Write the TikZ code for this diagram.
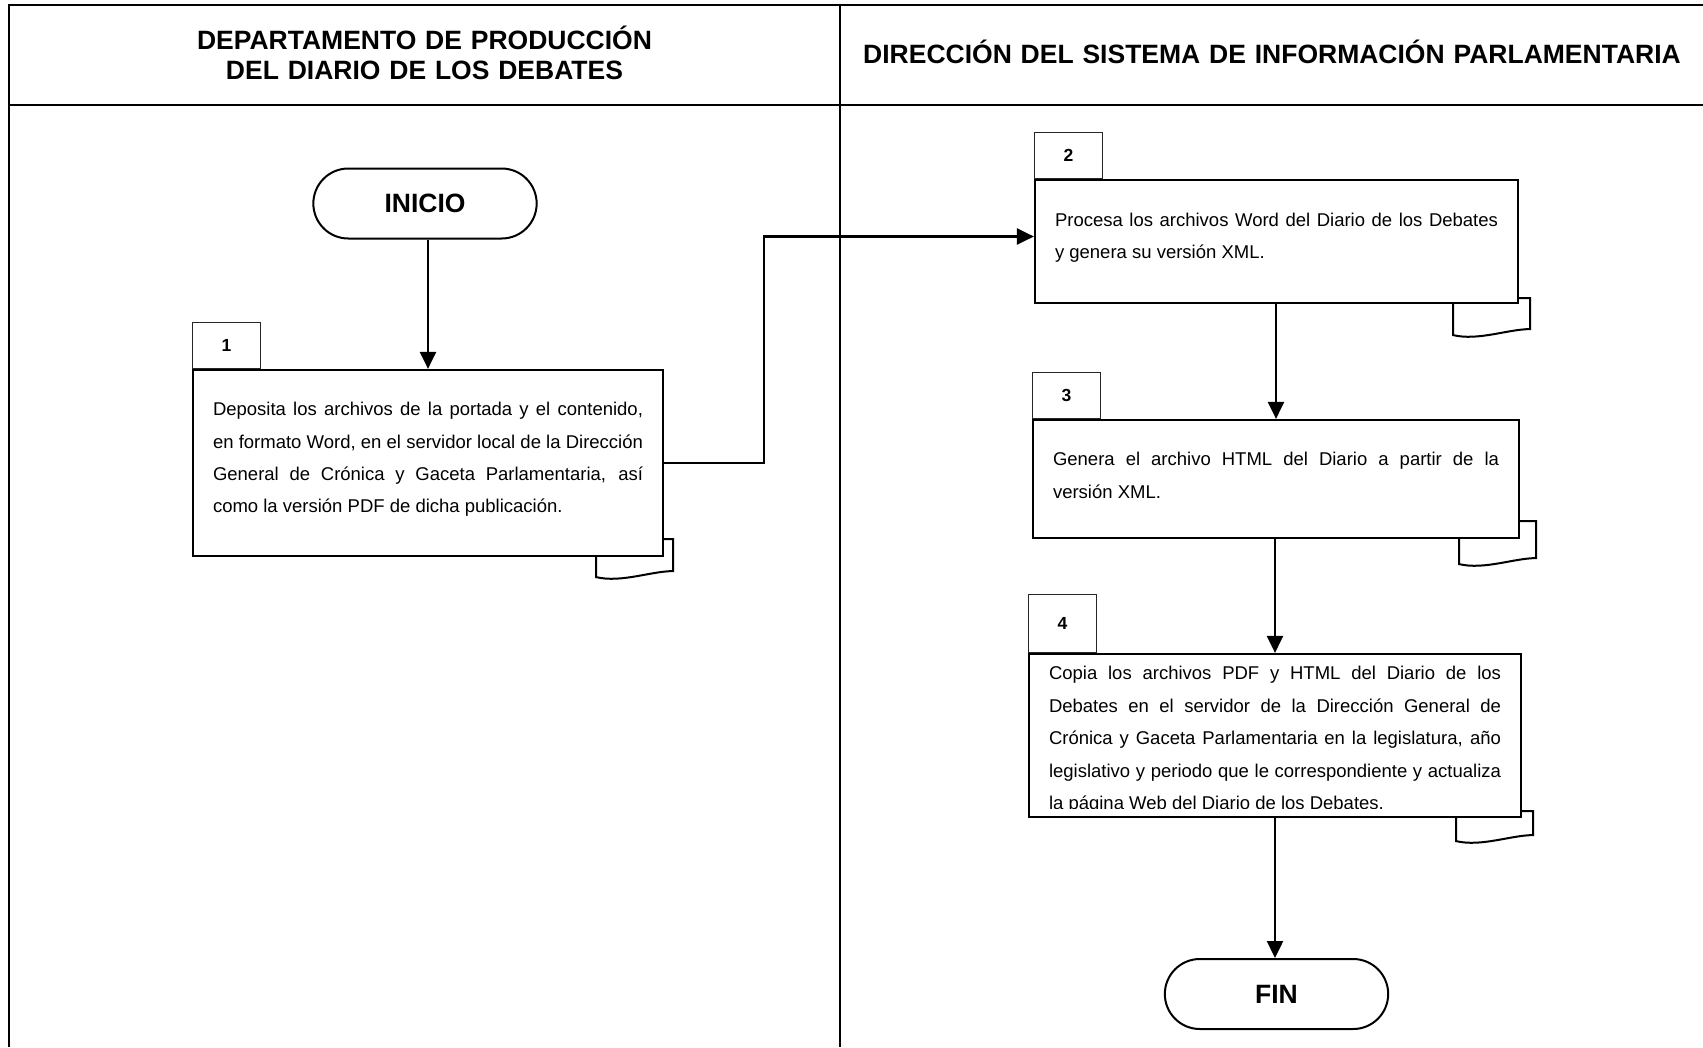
\documentclass[tikz,border=0pt]{standalone}
\usepackage{fontspec}
\setmainfont{Liberation Sans}
\usetikzlibrary{positioning,shapes.misc,arrows.meta}
\hyphenpenalty=10000
\exhyphenpenalty=10000

\newcommand{\docmark}[4]{%
  \draw[doc] (#1.south east) ++(0,-#2) -- ++(#3,0) -- ++(0,{#2+#4})
    .. controls +(-22,0) and +(25,6) .. ++(-77,6) -- ++(0,{-#4-6});}

\begin{document}
\begin{tikzpicture}[x=1pt,y=-1pt]
    \tikzstyle{laneline} = [line width=2.5pt]
    \tikzstyle{lane} = [font=\fontsize{26.5}{30}\selectfont\bfseries,text width=820pt,align=center,inner sep=0pt]
    \tikzstyle{term} = [rounded rectangle,draw,line width=2pt,minimum width=230pt,minimum height=70pt,font=\fontsize{26.5}{30}\selectfont\bfseries]
    \tikzstyle{act} = [rectangle,draw,line width=2.2pt,fill=white,inner xsep=20pt,inner ysep=0pt,align=justify,font=\fontsize{18.5}{32.4}\selectfont,execute at end node={\endgraf\vspace*{7pt}}]
    \tikzstyle{tab} = [rectangle,draw=black!85,line width=1.3pt,minimum width=68pt,minimum height=46pt,inner sep=0pt,font=\fontsize{17.5}{20}\selectfont\bfseries]
    \tikzstyle{doc} = [line width=2pt]
    \tikzstyle{flow} = [->,line width=2.4pt]
    \tikzset{>={Triangle[length=17pt,width=16pt]}}

    \useasboundingbox (0,0) rectangle (1703,1047);
    \draw[laneline] (1703,5) -- (9,5) -- (9,1047);
    \draw[laneline] (9,105) -- (1703,105);
    \draw[laneline] (840,5) -- (840,1047);

    \node[lane,anchor=base] (lane1) at (424.5,49) {DEPARTAMENTO DE PRODUCCIÓN\\DEL DIARIO DE LOS DEBATES};
    \node[lane,anchor=base] (lane2) at (1272,63) {DIRECCIÓN DEL SISTEMA DE INFORMACIÓN PARLAMENTARIA};

    \node[term] (inicio) at (425,203.5) {INICIO};
    \node[term] (fin) at (1276.5,994) {FIN};

    \node[act,text width=430pt,minimum height=186pt] (b1) at (428,463) {Deposita los archivos de la portada y el contenido,\linebreak en formato Word, en el servidor local de la Dirección\linebreak General de Crónica y Gaceta Parlamentaria, así\linebreak como la versión PDF de dicha publicación.};
    \node[tab,above right=0pt of b1.north west] (t1) {1};
    \docmark{b1}{18}{9}{14}

    \node[act,text width=443pt,minimum height=123pt] (b2) at (1276.5,241.5) {Procesa los archivos Word del Diario de los Debates\linebreak y genera su versión XML.};
    \node[tab,above right=0pt of b2.north west] (t2) {2};
    \docmark{b2}{6}{11}{25}

    \node[act,text width=446pt,minimum height=118pt] (b3) at (1276,479) {Genera el archivo HTML del Diario a partir de la\linebreak versión XML.};
    \node[tab,above right=0pt of b3.north west] (t3) {3};
    \docmark{b3}{18}{16}{19}

    \node[act,text width=452pt,minimum height=163pt] (b4) at (1275,735.5) {};
    \begin{scope}
      \clip (b4.north west) rectangle ([yshift=10pt]b4.south east);
      \node[act,draw=none,fill=none,text width=452pt,minimum height=163pt,yshift=-8pt] (b4txt) at (b4) {Copia los archivos PDF y HTML del Diario de los\linebreak Debates en el servidor de la Dirección General de\linebreak Crónica y Gaceta Parlamentaria en la legislatura, año\linebreak legislativo y periodo que le correspondiente y actualiza\linebreak la página Web del Diario de los Debates.};
    \end{scope}
    \node[tab,minimum height=58pt,above right=0pt of b4.north west] (t4) {4};
    \docmark{b4}{7}{11}{17}

    \draw[flow] (inicio.south -| b1.north) -- (b1.north);
    \draw[flow] (b1.east) -- ++(100,0) |- ([yshift=5pt]b2.west);
    \draw[flow] (b2.south -| b3.north) -- (b3.north);
    \draw[flow] (b3.south -| b4.north) -- (b4.north);
    \draw[flow] (b4.south) -- (b4.south |- fin.north);
\end{tikzpicture}
\end{document}
